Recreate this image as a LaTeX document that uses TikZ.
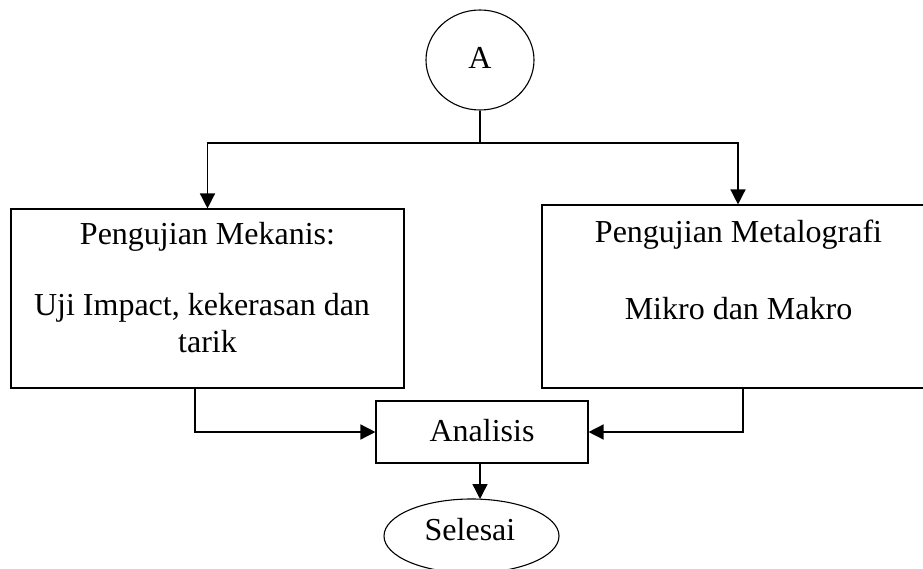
\documentclass[tikz,border=0pt]{standalone}
\usepackage{fontspec}
\setmainfont{Liberation Serif}
\usetikzlibrary{arrows.meta,shapes.geometric}
\begin{document}
\begin{tikzpicture}[x=1pt,y=-1pt,
  every node/.style={font=\fontsize{32}{38}\selectfont},
  boxnode/.style={draw,line width=1.1pt,rectangle,inner sep=0pt},
  ovalnode/.style={draw,line width=1.1pt,ellipse,inner sep=0pt},
  txt/.style={anchor=base,inner sep=0pt},
  conn/.style={line width=1.4pt},
  arr/.style={line width=1.4pt,-{Triangle[length=15pt,width=15pt]}}]
\path[use as bounding box,clip] (0,0) rectangle (923,569);
\fill[white] (0,0) rectangle (923,569);
% nodes
\node[ovalnode,minimum width=108pt,minimum height=100pt] (A) at (480,60) {};
\node[boxnode,minimum width=393pt,minimum height=179pt] (L) at (207.5,298.5) {};
\node[boxnode,minimum width=392pt,minimum height=183pt] (R) at (738,296.5) {};
\node[boxnode,minimum width=212pt,minimum height=62pt] (An) at (482,432) {};
\node[ovalnode,minimum width=175pt,minimum height=74pt] (Sel) at (471.5,536) {};
% texts
\node[txt] (AT) at (480,69) {A};
\node[txt] (L1) at (207.5,245) {Pengujian Mekanis:};
\node[txt] (L2) at (202,315) {Uji Impact, kekerasan dan};
\node[txt] (L3) at (207.5,352) {tarik};
\node[txt] (R1) at (738.5,243) {Pengujian Metalografi};
\node[txt] (R2) at (738.5,319) {Mikro dan Makro};
\node[txt] (AnT) at (482,441.5) {Analisis};
\node[txt] (SelT) at (470,540) {Selesai};
% connectors
\coordinate (split) at (480,143);
\draw[conn] (A.south) -- (split);
\draw[arr] (split) -| (L.north);
\draw[arr] (split) -| (R.north);
\draw[arr] ([xshift=-12.5pt]L.south) |- (An.west);
\draw[arr] ([xshift=5pt]R.south) |- (An.east);
\draw[arr] ([xshift=-2pt]An.south) -- ([xshift=-2pt]An.south |- 0,499);
\end{tikzpicture}
\end{document}
